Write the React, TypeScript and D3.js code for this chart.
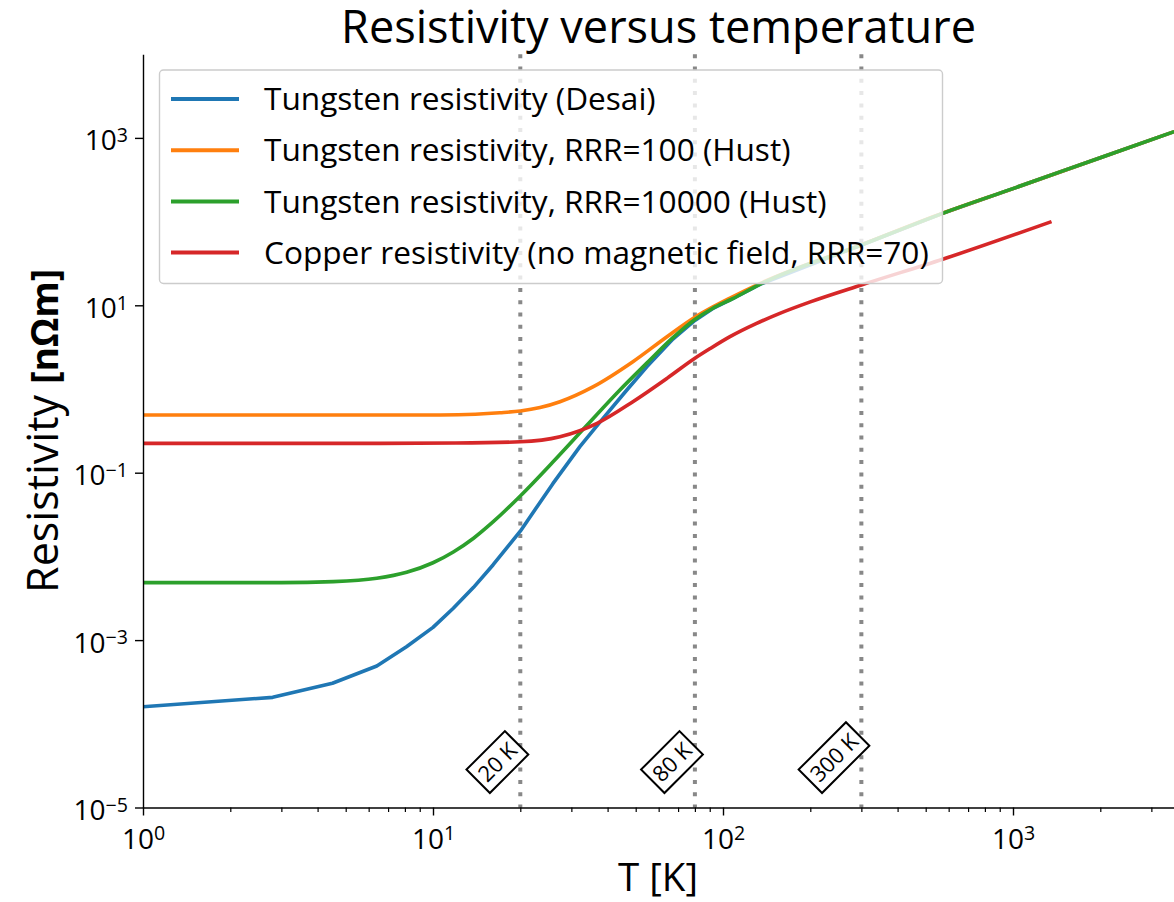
import React, { useEffect, useRef } from "react";
import * as d3 from "d3";

// temperatures [K] and resistivities [nΩm]
const desaiT = [1, 2.8, 4.5, 6.4, 8.1, 10, 11.75, 13.8, 16.1, 20, 25.9, 32.1, 37.7, 46.6, 54.7, 67.2, 80, 92, 108, 134, 300, 572, 1000, 2000, 3600];
const desaiRho = [1.6e-4, 2.07e-4, 3.05e-4, 4.91e-4, 8.33e-4, 1.42e-3, 2.4e-3, 4.27e-3, 7.9e-3, 0.02, 0.074, 0.205, 0.406, 0.973, 1.85, 3.95, 6.6, 9.1, 12.0, 17.8, 52.5, 125.6, 248, 580, 1190];

const hust100T = [1, 3, 6.57, 10.6, 14, 17, 20, 23.4, 27.4, 35.6, 48.9, 64.1, 80, 92, 105.7, 134, 300, 572, 1000, 2000, 3600];
const hust100Rho = [0.489, 0.489, 0.489, 0.49, 0.5, 0.52, 0.546, 0.6, 0.705, 1.06, 2.12, 4.22, 7.2, 9.5, 12.2, 18.2, 53, 126, 248, 580, 1190];

const hust10000T = [1, 3, 4.53, 6.4, 8.11, 10, 11.75, 13.8, 16.1, 20, 25.9, 34, 44.1, 54.7, 67.2, 80, 92, 108, 134, 300, 572, 1000, 2000, 3600];
const hust10000Rho = [4.86e-3, 4.86e-3, 4.99e-3, 5.47e-3, 6.46e-3, 8.4e-3, 0.0113, 0.0165, 0.0258, 0.0527, 0.134, 0.371, 0.973, 2.05, 4.1, 6.77, 9.16, 12.0, 17.8, 52.5, 125.6, 248, 580, 1190];

const copperT = [1, 3, 6.57, 12, 20, 27.4, 36.8, 48.9, 64.1, 80, 90, 105.7, 130, 157, 200, 300, 572, 1358];
const copperRho = [0.224, 0.224, 0.224, 0.226, 0.234, 0.269, 0.389, 0.705, 1.34, 2.33, 3.02, 4.22, 6.04, 8.02, 11.0, 17.5, 35.5, 100];

const seriesNames = [
  "Tungsten resistivity (Desai)",
  "Tungsten resistivity, RRR=100 (Hust)",
  "Tungsten resistivity, RRR=10000 (Hust)",
  "Copper resistivity (no magnetic field, RRR=70)",
];
const seriesColors = ["#1f77b4", "#ff7f0e", "#2ca02c", "#d62728"];

const markerTemps = [20, 80, 300];
const markerLabels = ["20 K", "80 K", "300 K"];

const yTickValues = [1e-5, 1e-3, 1e-1, 1e1, 1e3];
const xMajorTicks = [1, 10, 100, 1000];

const title = "Resistivity versus temperature";
const xLabel = "T [K]";
const yLabelPlain = "Resistivity ";
const yLabelBold = "[nΩm]";

const W = 1174;
const H = 902;
const FONT = "'Open Sans', sans-serif";

const App = () => {
  const svgRef = useRef<SVGSVGElement>(null);

  useEffect(() => {
    const svg = d3.select(svgRef.current);
    svg.selectAll("*").remove();

    const measure = (txt: string, size: number, weight = "normal") => {
      const t = svg
        .append("text")
        .attr("font-family", FONT)
        .attr("font-size", size)
        .attr("font-weight", weight)
        .text(txt);
      const w = (t.node() as SVGTextElement).getComputedTextLength();
      t.remove();
      return w;
    };
    const fit = (txt: string, target: number, weight = "normal") =>
      (100 * target) / measure(txt, 100, weight);

    const x = d3.scaleLog().domain([1, 3600]).range([143, 143 + 290 * Math.log10(3600)]);
    const y = d3.scaleLog().domain([1e-5, 1e4]).range([807.5, 54.2]);
    const [x0] = x.range();
    const [yB, yT] = y.range();

    svg
      .append("defs")
      .append("clipPath")
      .attr("id", "plot-clip")
      .append("rect")
      .attr("x", x0)
      .attr("y", yT)
      .attr("width", W - x0)
      .attr("height", yB - yT);

    // dotted reference temperatures
    svg
      .append("g")
      .selectAll("line")
      .data(markerTemps)
      .join("line")
      .attr("x1", (d) => x(d))
      .attr("x2", (d) => x(d))
      .attr("y1", yT)
      .attr("y2", yB)
      .attr("stroke", "#888")
      .attr("stroke-width", 4)
      .attr("stroke-dasharray", "4 8.3");

    // curves
    const series = [
      [desaiT, desaiRho],
      [hust100T, hust100Rho],
      [hust10000T, hust10000Rho],
      [copperT, copperRho],
    ];
    const plot = svg.append("g").attr("clip-path", "url(#plot-clip)");
    series.forEach(([T, R], i) => {
      const line = d3
        .line<number>()
        .curve(i === 0 ? d3.curveLinear : d3.curveMonotoneX)
        .x((_, k) => x(T[k]))
        .y((_, k) => y(R[k]));
      plot
        .append("path")
        .attr("fill", "none")
        .attr("stroke", seriesColors[i])
        .attr("stroke-width", 3.6)
        .attr("stroke-linejoin", "round")
        .attr("d", line(T));
    });

    // axes
    const minorTicks: number[] = [];
    for (let k = 0; k < 4; k++)
      for (let m = 2; m <= 9; m++) if (m * 10 ** k < 3600) minorTicks.push(m * 10 ** k);

    const supText = (g: any) =>
      g.selectAll(".tick text").each(function (this: SVGTextElement, d: number) {
        const e = Math.round(Math.log10(d));
        const t = d3.select(this);
        t.text("10");
        t.append("tspan")
          .attr("dy", "-0.42em")
          .attr("font-size", "0.7em")
          .text(e < 0 ? "\u2212" + -e : String(e));
      });

    svg
      .append("g")
      .attr("transform", `translate(0,${yB})`)
      .call(d3.axisBottom(x).tickValues(minorTicks).tickFormat(() => "").tickSize(4.5).tickSizeOuter(0))
      .call((g) => g.select(".domain").remove())
      .call((g) => g.selectAll(".tick line").attr("stroke-width", 1.2));

    svg
      .append("g")
      .attr("transform", `translate(0,${yB})`)
      .call(d3.axisBottom(x).tickValues(xMajorTicks).tickSize(8).tickSizeOuter(0))
      .call((g) => g.select(".domain").attr("stroke-width", 1.4))
      .call((g) => g.selectAll(".tick line").attr("stroke-width", 1.4))
      .call((g) =>
        g
          .selectAll(".tick text")
          .attr("font-family", FONT)
          .attr("font-size", 28)
          .attr("fill", "#000")
          .attr("y", 41)
          .attr("dy", 0)
      )
      .call(supText);

    svg
      .append("g")
      .attr("transform", `translate(${x0},0)`)
      .call(d3.axisLeft(y).tickValues(yTickValues).tickSize(8).tickSizeOuter(0))
      .call((g) => g.select(".domain").attr("stroke-width", 1.4))
      .call((g) => g.selectAll(".tick line").attr("stroke-width", 1.4))
      .call((g) =>
        g
          .selectAll(".tick text")
          .attr("font-family", FONT)
          .attr("font-size", 28)
          .attr("fill", "#000")
          .attr("x", -15)
          .attr("y", 12)
          .attr("dy", 0)
      )
      .call(supText);

    // rotated temperature labels
    const labFs = 22;
    const pad = 5;
    markerTemps.forEach((T, i) => {
      const tw = measure(markerLabels[i], labFs);
      const bw = tw + 2 * pad;
      const bh = labFs * 1.05 + 2 * pad;
      const half = (bw + bh) / (2 * Math.SQRT2);
      const cx = x(T) + 8 - half;
      const cy = 793 - half;
      const g = svg.append("g").attr("transform", `translate(${cx},${cy}) rotate(-45)`);
      g.append("rect")
        .attr("x", -bw / 2)
        .attr("y", -bh / 2)
        .attr("width", bw)
        .attr("height", bh)
        .attr("fill", "#fff")
        .attr("stroke", "#000")
        .attr("stroke-width", 2);
      g.append("text")
        .attr("font-family", FONT)
        .attr("font-size", labFs)
        .attr("text-anchor", "middle")
        .attr("y", labFs * 0.357)
        .text(markerLabels[i]);
    });

    // legend
    const legFs = fit(seriesNames[3], 665);
    const leg = svg.append("g");
    leg
      .append("rect")
      .attr("x", 159.5)
      .attr("y", 70)
      .attr("width", 783)
      .attr("height", 213.5)
      .attr("rx", 4)
      .attr("fill", "#fff")
      .attr("fill-opacity", 0.8)
      .attr("stroke", "#ccc")
      .attr("stroke-width", 1.4);
    seriesNames.forEach((name, i) => {
      const ly = 99 + i * 51.2;
      leg
        .append("line")
        .attr("x1", 171)
        .attr("x2", 239)
        .attr("y1", ly)
        .attr("y2", ly)
        .attr("stroke", seriesColors[i])
        .attr("stroke-width", 4);
      leg
        .append("text")
        .attr("x", 264)
        .attr("y", ly + legFs * 0.357)
        .attr("font-family", FONT)
        .attr("font-size", legFs)
        .text(name);
    });

    // title and axis labels
    svg
      .append("text")
      .attr("x", (x0 + W) / 2)
      .attr("y", 43)
      .attr("text-anchor", "middle")
      .attr("font-family", FONT)
      .attr("font-size", fit(title, 635))
      .text(title);

    svg
      .append("text")
      .attr("x", 658)
      .attr("y", 891)
      .attr("text-anchor", "middle")
      .attr("font-family", FONT)
      .attr("font-size", fit(xLabel, 80))
      .text(xLabel);

    const yfs = fit(yLabelPlain, 198);
    const bfs = fit(yLabelBold, 115, "bold");
    const yl = svg
      .append("text")
      .attr("transform", `translate(58,${(yB + yT) / 2}) rotate(-90)`)
      .attr("text-anchor", "middle")
      .attr("font-family", FONT)
      .attr("font-size", yfs);
    yl.append("tspan").text(yLabelPlain);
    yl.append("tspan").attr("font-weight", "bold").attr("font-size", bfs).text(yLabelBold);
  }, []);

  return (
    <div style={{ position: "absolute", left: 0, top: 0 }}>
      <svg ref={svgRef} width={W} height={H} style={{ display: "block", background: "#fff" }} />
    </div>
  );
};

export default App;
